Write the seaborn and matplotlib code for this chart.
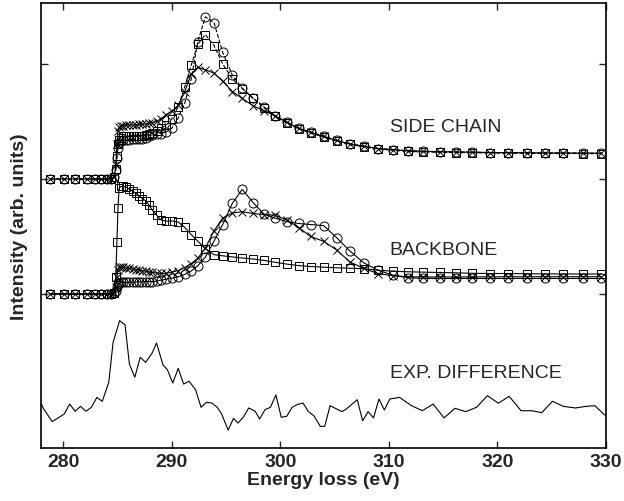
import numpy as np
import seaborn as sns
import matplotlib.pyplot as plt

# --- EELS C K-edge: side chain / backbone spectra + experimental difference ---

energy = [278.8, 280.1, 281.1, 282.2, 282.9, 283.5, 284.0, 284.4, 284.7,
          284.85, 284.95, 285.05, 285.15, 285.3, 285.5, 285.8, 286.1, 286.4, 286.7,
          287.0, 287.3, 287.6, 287.9, 288.2, 288.6, 289.0, 289.5, 290.0, 290.6,
          291.2, 291.8, 292.4, 293.1, 293.9, 294.7, 295.6, 296.5, 297.5, 298.5,
          299.5, 300.6, 301.7, 302.8, 304.0, 305.2, 306.4, 307.7, 309.0, 310.4,
          311.8, 313.2, 314.7, 316.2, 317.7, 319.3, 321.0, 322.7, 324.4, 326.1,
          327.9, 329.6]

# side chain (offset 2)
side_circ = [0, 0, 0, 0, 0, 0, 0, 0, 0.02,
             0.08, 0.18, 0.27, 0.31, 0.33, 0.34, 0.34, 0.34, 0.345, 0.345,
             0.35, 0.35, 0.36, 0.375, 0.385, 0.39, 0.395, 0.41, 0.44, 0.53,
             0.66, 0.87, 1.19, 1.41, 1.36, 1.10, 0.90, 0.79, 0.705, 0.627,
             0.55, 0.495, 0.44, 0.408, 0.373, 0.335, 0.305, 0.285, 0.265, 0.255,
             0.245, 0.24, 0.238, 0.235, 0.233, 0.23, 0.229, 0.228, 0.226, 0.226,
             0.225, 0.224]
side_sq = [0, 0, 0, 0, 0, 0, 0, 0, 0.02,
           0.09, 0.2, 0.3, 0.34, 0.36, 0.37, 0.37, 0.37, 0.37, 0.37,
           0.372, 0.375, 0.38, 0.39, 0.40, 0.42, 0.44, 0.47, 0.52, 0.63,
           0.80, 0.99, 1.17, 1.255, 1.16, 1.0, 0.87, 0.785, 0.70, 0.62,
           0.545, 0.485, 0.435, 0.40, 0.365, 0.33, 0.30, 0.28, 0.26, 0.25,
           0.24, 0.235, 0.232, 0.23, 0.228, 0.226, 0.225, 0.224, 0.222, 0.222,
           0.221, 0.22]
side_x = [0, 0, 0, 0, 0, 0, 0, 0, 0.02,
          0.12, 0.3, 0.42, 0.45, 0.46, 0.465, 0.47, 0.47, 0.47, 0.47,
          0.475, 0.475, 0.48, 0.485, 0.49, 0.50, 0.52, 0.56, 0.59, 0.64,
          0.76, 0.91, 0.97, 0.95, 0.92, 0.85, 0.76, 0.70, 0.637, 0.594,
          0.55, 0.495, 0.44, 0.405, 0.37, 0.335, 0.305, 0.285, 0.265, 0.255,
          0.245, 0.24, 0.238, 0.235, 0.233, 0.23, 0.229, 0.228, 0.226, 0.226,
          0.225, 0.224]

# backbone (offset 1)
back_circ = [0, 0, 0, 0, 0, 0, 0, 0, 0.005,
             0.03, 0.06, 0.085, 0.095, 0.1, 0.1, 0.1, 0.102, 0.103, 0.104,
             0.105, 0.106, 0.107, 0.107, 0.108, 0.112, 0.12, 0.128, 0.137, 0.15,
             0.17, 0.20, 0.245, 0.32, 0.46, 0.604, 0.79, 0.91, 0.795, 0.695,
             0.66, 0.63, 0.613, 0.604, 0.595, 0.49, 0.376, 0.271, 0.207, 0.163,
             0.141, 0.136, 0.135, 0.135, 0.135, 0.135, 0.135, 0.135, 0.135, 0.135,
             0.135, 0.135]
back_sq = [0, 0, 0, 0, 0, 0, 0, 0, 0.01,
           0.15, 0.45, 0.75, 0.92, 0.935, 0.935, 0.93, 0.91, 0.895, 0.875,
           0.855, 0.83, 0.81, 0.775, 0.73, 0.687, 0.645, 0.633, 0.635, 0.625,
           0.58, 0.516, 0.46, 0.394, 0.342, 0.332, 0.322, 0.313, 0.304, 0.292,
           0.276, 0.26, 0.247, 0.239, 0.233, 0.228, 0.224, 0.22, 0.207, 0.198,
           0.193, 0.19, 0.187, 0.184, 0.18, 0.178, 0.178, 0.176, 0.175, 0.174,
           0.174, 0.174]
back_x = [0, 0, 0, 0, 0, 0, 0, 0, 0.01,
          0.06, 0.15, 0.21, 0.235, 0.238, 0.235, 0.228, 0.222, 0.217, 0.212,
          0.208, 0.203, 0.198, 0.192, 0.187, 0.183, 0.179, 0.18, 0.19, 0.203,
          0.23, 0.265, 0.31, 0.40, 0.55, 0.66, 0.705, 0.715, 0.70, 0.69,
          0.685, 0.645, 0.578, 0.5, 0.458, 0.383, 0.28, 0.222, 0.178, 0.158,
          0.15, 0.148, 0.148, 0.148, 0.149, 0.149, 0.15, 0.15, 0.15, 0.15,
          0.15, 0.15]

# experimental difference (offset 0)
exp_energy = [278.0, 278.2, 279.0, 280.1, 280.6, 281.1, 281.6, 282.1, 282.6, 283.1,
              283.6, 284.2, 284.6, 285.2, 285.7, 286.1, 286.6, 287.1, 287.6, 288.2,
              288.6, 289.2, 289.6, 290.1, 290.6, 291.1, 291.6, 292.2, 292.7, 293.2,
              293.7, 294.2, 294.6, 295.2, 295.7, 296.1, 296.6, 297.1, 297.7, 298.1,
              298.6, 299.1, 299.6, 300.1, 300.6, 301.1, 301.6, 302.1, 302.6, 303.1,
              303.7, 304.1, 304.6, 305.2, 305.7, 306.1, 307.1, 307.6, 308.1, 308.6,
              309.1, 309.6, 310.1, 311.0, 312.1, 313.1, 314.1, 315.1, 316.1, 317.1,
              318.1, 319.1, 320.1, 321.1, 322.2, 323.2, 324.1, 325.1, 326.1, 327.2,
              328.2, 329.0, 329.9]
exp_signal = [0.043, 0.0, -0.11, -0.043, 0.043, -0.02, 0.023, -0.02, 0.015, 0.101,
              0.067, 0.232, 0.58, 0.768, 0.733, 0.391, 0.276, 0.45, 0.406, 0.487,
              0.574, 0.383, 0.342, 0.226, 0.354, 0.217, 0.241, 0.168, 0.015, 0.058,
              0.052, 0.015, -0.043, -0.183, -0.081, -0.122, -0.072, 0.009, -0.02, -0.087,
              -0.006, 0.015, 0.122, -0.072, -0.063, 0.015, 0.04, 0.052, -0.023, -0.058,
              -0.151, -0.151, 0.029, 0.0, -0.023, 0.0, 0.081, -0.102, -0.023, -0.078,
              0.087, -0.009, 0.087, 0.101, 0.029, -0.015, 0.043, -0.078, 0.006, -0.023,
              0.015, 0.116, 0.05, 0.11, -0.015, -0.015, -0.032, 0.067, 0.023, 0.009,
              0.023, 0.029, -0.052]

labels = ['SIDE CHAIN', 'BACKBONE', 'EXP. DIFFERENCE']
label_y = [2.46, 1.39, 0.32]

sns.set_style('ticks')
plt.rcParams['font.family'] = ['Liberation Sans', 'DejaVu Sans']

fig, ax = plt.subplots(figsize=(6.24, 5.02), dpi=100)
fig.subplots_adjust(left=0.0665, right=0.9707, bottom=0.1056, top=0.992)

common = dict(color='black', lw=0.8, mfc='none', mec='black', mew=0.7,
              errorbar=None, ax=ax)

# side chain: dashed circles/squares, solid crosses
sns.lineplot(x=energy, y=np.array(side_circ) + 2, marker='o', ms=6.5, ls='--', **common)
sns.lineplot(x=energy, y=np.array(side_sq) + 2, marker='s', ms=5.5, ls='--', **common)
sns.lineplot(x=energy, y=np.array(side_x) + 2, marker='x', ms=5.5, ls='-', **common)

# backbone
sns.lineplot(x=energy, y=np.array(back_circ) + 1, marker='o', ms=6.5, ls='-', **common)
sns.lineplot(x=energy, y=np.array(back_sq) + 1, marker='s', ms=5.5, ls='-', **common)
sns.lineplot(x=energy, y=np.array(back_x) + 1, marker='x', ms=5.5, ls='-', **common)

# experimental difference
sns.lineplot(x=exp_energy, y=exp_signal, color='black', lw=0.8, errorbar=None, ax=ax)

for txt, yy in zip(labels, label_y):
    ax.text(310.1, yy, txt, fontsize=14, ha='left', va='center')

ax.set_xlim(278, 330)
ax.set_ylim(-0.339, 3.53)
ax.set_xticks([280, 290, 300, 310, 320, 330])
ax.set_yticks([1, 2, 3])
ax.set_yticklabels([])
ax.tick_params(direction='in', top=True, right=True, length=5, width=1,
               labelsize=14)
for lab in ax.get_xticklabels():
    lab.set_fontweight('bold')
for sp in ax.spines.values():
    sp.set_linewidth(1.2)
    sp.set_color('black')

ax.set_xlabel('Energy loss (eV)', fontsize=14, fontweight='bold', labelpad=1)
ax.set_ylabel('Intensity (arb. units)', fontsize=14, fontweight='bold', labelpad=6)

fig.savefig('out.png', dpi=100)
